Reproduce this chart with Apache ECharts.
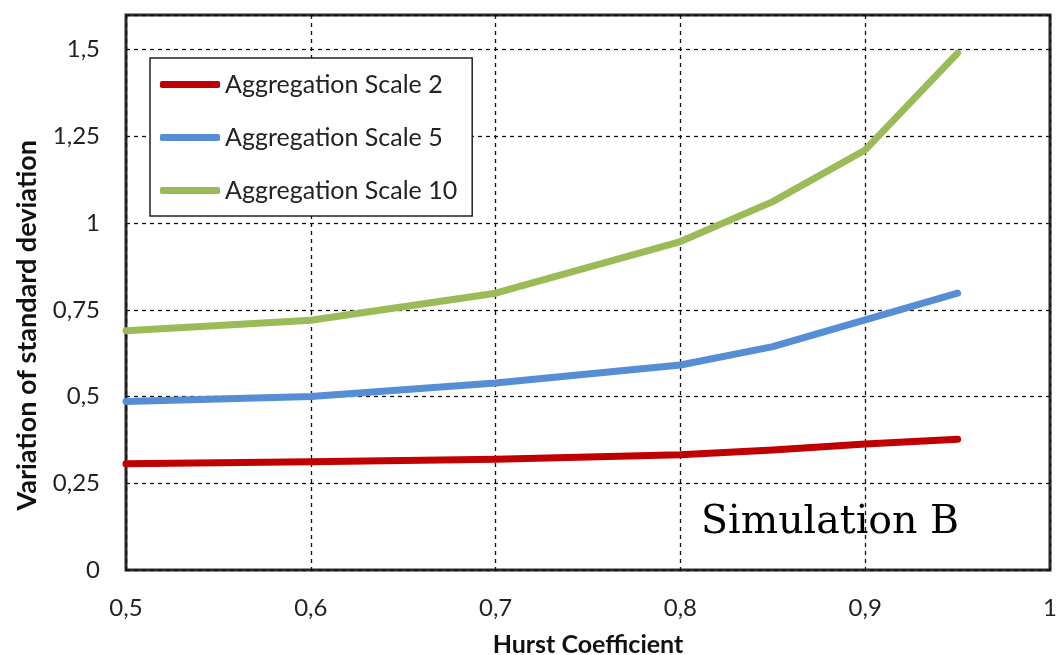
<!DOCTYPE html>
<html>
<head>
<meta charset="utf-8">
<script src="https://cdn.jsdelivr.net/npm/echarts@6/dist/echarts.min.js"></script>
<style>html,body{margin:0;padding:0;background:#fff}#c{width:1057px;height:655px}</style>
</head>
<body>
<div id="c"></div>
<script>
var hurst = [0.5, 0.6, 0.7, 0.8, 0.85, 0.9, 0.95];
var scale2 = [0.306, 0.312, 0.319, 0.332, 0.346, 0.363, 0.377];
var scale5 = [0.486, 0.500, 0.539, 0.591, 0.644, 0.721, 0.798];
var scale10 = [0.690, 0.720, 0.798, 0.947, 1.062, 1.211, 1.490];
var seriesNames = ['Aggregation Scale 2', 'Aggregation Scale 5', 'Aggregation Scale 10'];
var colors = ['#C00000', '#558ED5', '#9BBB59'];
var xTitle = 'Hurst Coefficient';
var yTitle = 'Variation of standard deviation';
var noteText = 'Simulation B';

function pairs(ys){ return hurst.map(function(x,i){ return [x, ys[i]]; }); }
function fmt(v){ return String(+(+v).toFixed(2)).replace('.', ','); }

var font = 'Lato';
var chart = echarts.init(document.getElementById('c'));
var allData = [scale2, scale5, scale10];
chart.setOption({
  animation: false,
  color: colors,
  grid: {left: 126, right: 7, top: 15, bottom: 85, containLabel: false, outerBoundsMode: 'none', show: true, borderColor: '#2a2a2a', borderWidth: 3, backgroundColor: 'transparent'},
  xAxis: {
    type: 'value', min: 0.5, max: 1, interval: 0.1,
    axisLine: {show: false}, axisTick: {show: false},
    axisLabel: {formatter: fmt, fontFamily: font, fontSize: 24, color: '#222', margin: 26},
    splitLine: {show: true, lineStyle: {color: '#111', width: 1.3, type: [4, 4]}},
    name: xTitle, nameLocation: 'middle', nameGap: 62,
    nameTextStyle: {fontFamily: font, fontWeight: 'bold', fontSize: 25, color: '#111'}
  },
  yAxis: {
    type: 'value', min: 0, max: 1.6, interval: 0.25,
    axisLine: {show: false}, axisTick: {show: false},
    axisLabel: {formatter: function(v){ return Math.abs(v/0.25 - Math.round(v/0.25)) < 1e-6 ? fmt(v) : ''; }, fontFamily: font, fontSize: 24, color: '#222', margin: 26},
    splitLine: {show: true, lineStyle: {color: '#111', width: 1.3, type: [4, 4]}}
  },
  legend: {
    orient: 'vertical', left: 150, top: 58,
    data: seriesNames,
    icon: 'roundRect', itemWidth: 60, itemHeight: 7, itemGap: 28, itemTextGap: 4,
    padding: [14, 15, 13, 10],
    borderColor: '#222', borderWidth: 1.5, backgroundColor: '#fff',
    textStyle: {fontFamily: font, fontSize: 25, color: '#222'}
  },
  graphic: [
    {type: 'text', left: 14, top: 140, rotation: Math.PI/2, style: {text: yTitle, fontFamily: font, fontWeight: 'bold', fontSize: 27, fill: '#111'}},
    {type: 'text', left: 701, top: 503, style: {text: noteText, fontFamily: 'DejaVu Serif', fontSize: 39.5, fill: '#000'}}
  ],
  series: seriesNames.map(function(n, i){
    return {name: n, type: 'line', data: pairs(allData[i]), showSymbol: false, symbol: 'none',
      lineStyle: {width: 7, color: colors[i], cap: 'round', join: 'round'}, itemStyle: {color: colors[i]}};
  })
});
</script>
</body>
</html>
